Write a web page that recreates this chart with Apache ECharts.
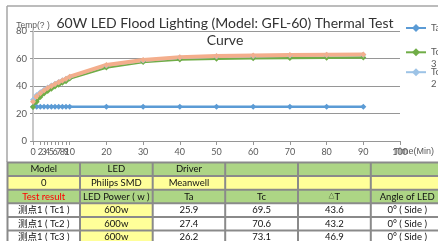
<!DOCTYPE html>
<html>
<head>
<meta charset="utf-8">
<script src="https://cdn.jsdelivr.net/npm/echarts@6/dist/echarts.min.js"></script>
<style>
  html, body { margin: 0; padding: 0; background: #fff; }
  #main { width: 438px; height: 241px; }
</style>
</head>
<body>
<div id="main"></div>
<script>
// test times (min) and temperatures
var times = [0, 1, 2, 3, 4, 5, 6, 7, 8, 9, 10, 20, 30, 40, 50, 60, 70, 80, 90];
var ta  = [25, 25, 25, 25, 25, 25, 25, 25, 25, 25, 25, 25, 25, 25, 25, 25, 25, 25, 25];
var tc3 = [24.8, 28.5, 32, 34.5, 36.3, 38, 39.6, 41, 42.3, 43.5, 45.5, 53.4, 57.4, 59.2, 59.9, 60.2, 60.4, 60.6, 60.8];
var tc2 = [30, 33.5, 35.5, 37.3, 38.9, 40.3, 41.7, 43, 44.1, 45.2, 46.6, 55, 58.6, 60.7, 61.5, 61.9, 62.2, 62.5, 62.7];
var tc1 = [28.5, 32.5, 34.8, 36.8, 38.5, 40, 41.5, 42.8, 44, 45.2, 46.8, 55.3, 58.9, 61, 61.8, 62.2, 62.5, 62.8, 63];
var xTicks = [0, 1, 2, 3, 4, 5, 6, 7, 8, 9, 10, 20, 30, 40, 50, 60, 70, 80, 90, 100];

// sheet below the chart
var tableRows = [
    ['Model', 'LED', 'Driver', '', '', ''],
    ['0', 'Philips SMD', 'Meanwell', '', '', ''],
    ['Test result', 'LED Power ( w )', 'Ta', 'Tc', '{s|△}T', 'Angle of LED'],
    ['测点1 ( Tc1 )', '600w', '25.9', '69.5', '43.6', '0° ( Side )'],
    ['测点1 ( Tc2 )', '600w', '27.4', '70.6', '43.2', '0° ( Side )'],
    ['测点1 ( Tc3 )', '600w', '26.2', '73.1', '46.9', '0° ( Side )']
];

function pairs(ys) {
    return times.map(function (t, i) { return [t, ys[i]]; });
}

function lineSeries(name, ys, color, width) {
    return {
        name: name,
        type: 'line',
        data: pairs(ys),
        symbol: 'diamond',
        symbolSize: 6,
        lineStyle: { color: color, width: width },
        itemStyle: { color: color },
        emphasis: { disabled: true }
    };
}

// table cells as graphic elements
var colLines = [7.5, 80, 152.7, 225.2, 298, 370.8, 443.5];
var rowLines = [162.5, 176.1, 189.7, 203.3, 216.9, 230.5, 244.1];
var green = '#ADD585', yellow = '#FFFF99';
var cellFont = 'Lato, "Noto Sans CJK SC", sans-serif';
var graphics = [
    { type: 'line', shape: { x1: 7, y1: 6, x2: 438, y2: 6 }, style: { stroke: '#a6a6a6', lineWidth: 1.5 } },
    { type: 'line', shape: { x1: 7, y1: 6, x2: 7, y2: 162 }, style: { stroke: '#a6a6a6', lineWidth: 1.5 } },
    { type: 'rect', shape: { x: 6.5, y: 161.5, width: 440, height: 84 }, style: { fill: '#8a8a8a' } }
];
tableRows.forEach(function (row, r) {
    row.forEach(function (txt, c) {
        var fill = '#fff';
        if (r === 0 || r === 2) fill = green;
        else if (r === 1) fill = yellow;
        else if (c === 1) fill = yellow;
        var x0 = colLines[c] + 1, x1 = colLines[c + 1] - 1;
        var y0 = rowLines[r] + 1, y1 = rowLines[r + 1] - 1;
        graphics.push({ type: 'rect', shape: { x: x0, y: y0, width: x1 - x0, height: y1 - y0 }, style: { fill: fill } });
        if (txt) {
            graphics.push({
                type: 'text',
                x: (x0 + x1) / 2, y: (y0 + y1) / 2,
                style: {
                    text: txt, align: 'center', verticalAlign: 'middle',
                    fontSize: 9.5, fontFamily: cellFont,
                    fill: (r === 2 && c === 0) ? '#ff0000' : '#111',
                    rich: { s: { fontSize: 6, fill: '#111', fontFamily: cellFont } }
                }
            });
        }
    });
});

var legendText = { fontSize: 9.5, color: '#595959', fontFamily: 'Lato, sans-serif', lineHeight: 12 };

var myChart = echarts.init(document.getElementById('main'));
var option = {
    animation: false,
    backgroundColor: '#fff',
    title: {
        text: '60W LED Flood Lighting (Model: GFL-60) Thermal Test\nCurve',
        left: 220,
        top: 9.5,
        textAlign: 'center',
        textStyle: { fontFamily: 'Lato, sans-serif', fontSize: 14, fontWeight: 'normal', color: '#333', lineHeight: 17 }
    },
    legend: [
        { data: ['Ta'], left: 405, top: 22, padding: 0, itemWidth: 20, itemHeight: 10, textStyle: legendText },
        {
            data: ['Tc3'], left: 405, top: 34.3, padding: 0, itemWidth: 20, itemHeight: 10,
            formatter: function () { return ' \nTc\n3'; },
            textStyle: legendText
        },
        {
            data: ['Tc2'], left: 405, top: 54.2, padding: 0, itemWidth: 20, itemHeight: 10,
            formatter: function () { return ' \nTc\n2'; },
            textStyle: legendText
        }
    ],
    grid: { left: 33, right: 38, top: 31, bottom: 100, containLabel: false, outerBoundsMode: 'none' },
    xAxis: {
        type: 'value',
        min: 0,
        max: 100,
        name: 'Time(Min)',
        nameLocation: 'end',
        nameGap: 14,
        nameMoveOverlap: false,
        nameTextStyle: { fontSize: 9, color: '#595959', align: 'center', verticalAlign: 'top', padding: [6, 0, 0, 0] },
        axisLine: { show: true, lineStyle: { color: '#969696' } },
        axisTick: { show: true, customValues: xTicks, length: 4, lineStyle: { color: '#969696' } },
        axisLabel: {
            customValues: xTicks, fontSize: 9, color: '#595959', margin: 7,
            fontFamily: 'Lato, sans-serif', hideOverlap: false, showMinLabel: true
        },
        splitLine: { show: false }
    },
    yAxis: {
        type: 'value',
        min: 0,
        max: 80,
        interval: 20,
        name: 'Temp(? )',
        nameLocation: 'end',
        nameGap: 10,
        nameMoveOverlap: false,
        nameTextStyle: { fontSize: 8.5, color: '#595959', verticalAlign: 'top' },
        axisLine: { show: true, lineStyle: { color: '#c8c8c8', width: 2 } },
        axisTick: { show: true, length: 3, lineStyle: { color: '#969696' } },
        axisLabel: { fontSize: 9.5, color: '#595959', margin: 6, fontFamily: 'Lato, sans-serif' },
        splitLine: { lineStyle: { color: '#969696' } }
    },
    series: [
        lineSeries('Ta', ta, '#5B9BD5', 2.5),
        lineSeries('Tc3', tc3, '#70AD47', 2.5),
        lineSeries('Tc2', tc2, '#9DC3E6', 3),
        lineSeries('Tc1', tc1, '#F4AE8C', 4)
    ],
    graphic: graphics
};
myChart.setOption(option);
window.onresize = myChart.resize;
</script>
</body>
</html>
